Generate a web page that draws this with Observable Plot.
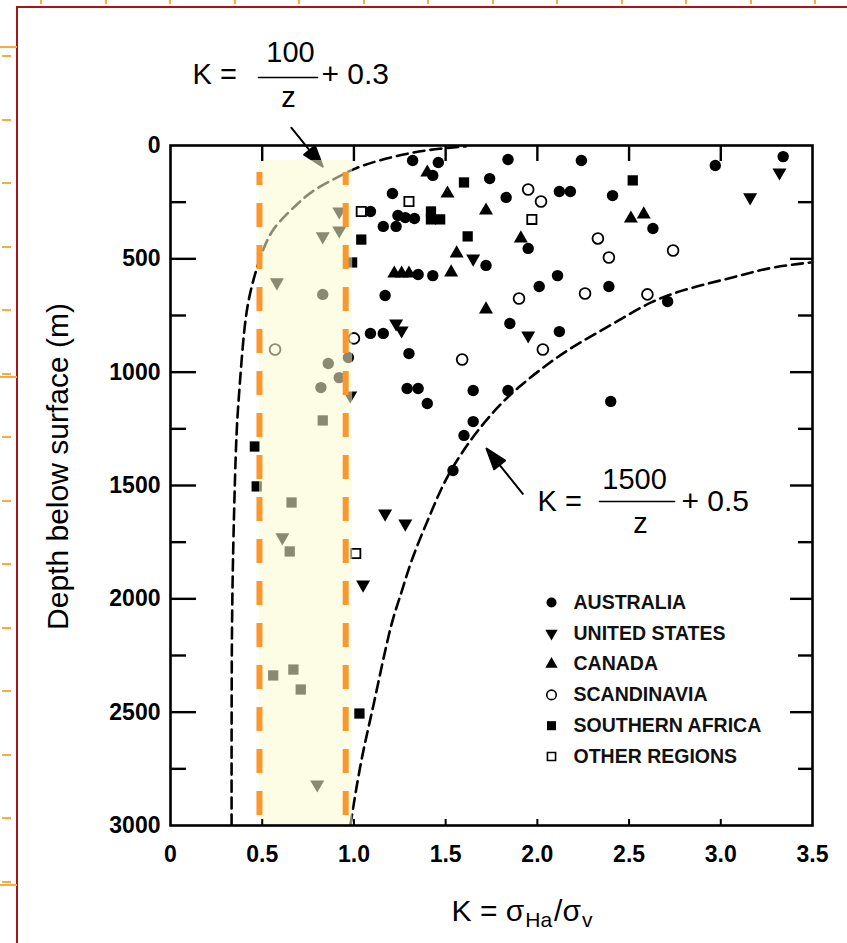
<!DOCTYPE html>
<html>
<head>
<meta charset="utf-8">
<script src="https://cdn.jsdelivr.net/npm/d3@7"></script>
<script src="https://cdn.jsdelivr.net/npm/@observablehq/plot@0.6"></script>
<style>
  html, body { margin: 0; padding: 0; background: #fff; }
  #wrap { position: relative; width: 847px; height: 943px; overflow: hidden; }
  #border { position: absolute; left: 16px; top: 6px; width: 900px; height: 1000px;
            border-top: 2px solid #a8141a; border-left: 2px solid #a8141a; }
  .om { position: absolute; background: #f4ad45; }
  #wrap svg { position: absolute; left: 0; top: 0; }
</style>
</head>
<body>
<div id="wrap"><div id="border"></div></div>
<script>
// ---------------- data (K = sigma_Ha / sigma_v, depth in m) ----------------
const regions = ["AUSTRALIA", "UNITED STATES", "CANADA", "SCANDINAVIA", "SOUTHERN AFRICA", "OTHER REGIONS"];

const australiaK = [1.32,1.46,1.43,1.84,2.24,1.74,1.21,1.83,2.12,2.18,1.09,1.24,1.28,1.33,1.16,1.23,1.95,1.72,1.35,1.43,2.11,2.01,1.17,1.85,2.12,1.09,1.16,1.30,2.41,2.63,2.39,2.71,2.97,3.34,0.83,0.86,0.97,0.92,0.82,1.29,1.35,1.40,1.65,1.84,1.65,1.60,1.54,2.40];
const australiaZ = [66,75,132,62,66,146,212,229,203,203,291,309,318,322,357,357,454,529,569,574,574,622,662,785,821,829,829,918,221,366,622,688,88,49,657,962,935,1024,1068,1072,1072,1138,1081,1081,1218,1279,1434,1129];

const usK = [0.92,0.83,0.92,0.58,0.98,0.61,0.80,1.65,1.23,1.26,1.95,1.17,1.28,1.05,3.32,3.16];
const usZ = [291,401,375,604,1103,1729,2819,499,785,816,838,1624,1668,1937,119,229];

const canadaK = [1.40,1.51,1.72,1.91,1.56,1.22,1.26,1.30,1.53,1.72,2.51,2.58];
const canadaZ = [119,212,287,410,476,565,565,565,560,723,322,304];

const scandinaviaK = [1.95,2.02,2.33,2.39,2.74,1.90,2.26,2.60,2.03,1.59,1.00,0.57];
const scandinaviaZ = [194,247,410,494,463,675,653,657,900,944,851,900];

const southAfricaK = [1.60,1.42,1.42,1.47,1.62,1.04,0.99,2.52,0.46,0.47,1.03,0.83,0.66,0.65,0.56,0.67,0.71];
const southAfricaZ = [163,291,326,326,401,415,516,154,1328,1504,2506,1213,1575,1791,2338,2312,2400];

const otherK = [1.30,1.04,1.97,1.01];
const otherZ = [247,291,326,1800];

// bounding curves as drawn: K = 100/z + 0.3 (left) and K = 1500/z + 0.5 (right)
const lowerCurveK = [0.333,0.333,0.335,0.35,0.36,0.375,0.40,0.425,0.48,0.545,0.638,0.709,0.80,0.91,1.0,1.13,1.31,1.47,1.61];
const lowerCurveZ = [3000,2500,2000,1500,1250,1080,816,670,510,375,300,243,185,141,101,66,31,13,4];
const upperCurveK = [0.98,1.04,1.10,1.20,1.25,1.31,1.42,1.50,1.64,1.78,1.89,2.06,2.22,2.42,2.62,2.84,3.07,3.26,3.49];
const upperCurveZ = [3000,2700,2500,2108,2000,1830,1620,1465,1290,1155,1070,960,873,785,684,626,582,538,516];

// highlighted band and arrow tips
const bandK = [0.485, 0.955];
const bandZ = [66, 3000];
const arrowTipK = [0.83, 1.723];
const arrowTipZ = [93, 1337];

// tick values
const xTickLabels = [0, 0.5, 1.0, 1.5, 2.0, 2.5, 3.0, 3.5];
const xInnerTicks = [0.5, 1.0, 1.5, 2.0, 2.5, 3.0];
const yTickLabels = [0, 500, 1000, 1500, 2000, 2500, 3000];
const yMajor = [500, 1000, 1500, 2000, 2500];
const yMinor = [250, 750, 1250, 1750, 2250, 2750];

// ---------------- build ----------------
const zip = (K, Z) => K.map((k, i) => ({k, z: Z[i]}));
const series = {
  "AUSTRALIA": zip(australiaK, australiaZ),
  "UNITED STATES": zip(usK, usZ),
  "CANADA": zip(canadaK, canadaZ),
  "SCANDINAVIA": zip(scandinaviaK, scandinaviaZ),
  "SOUTHERN AFRICA": zip(southAfricaK, southAfricaZ),
  "OTHER REGIONS": zip(otherK, otherZ)
};
const symStyle = {
  "AUSTRALIA":       {symbol: "circle",   r: 5.7, fill: "black", stroke: "none", rotate: 0},
  "UNITED STATES":   {symbol: "triangle", r: 5.2, fill: "black", stroke: "none", rotate: 180},
  "CANADA":          {symbol: "triangle", r: 5.2, fill: "black", stroke: "none", rotate: 0},
  "SCANDINAVIA":     {symbol: "circle",   r: 5.4, fill: "white", stroke: "black", strokeWidth: 1.8, rotate: 0},
  "SOUTHERN AFRICA": {symbol: "square",   r: 5.8, fill: "black", stroke: "none", rotate: 0},
  "OTHER REGIONS":   {symbol: "square",   r: 5.2, fill: "white", stroke: "black", strokeWidth: 1.8, rotate: 0}
};

const ML = 170, MR = 35, MT = 145, MB = 118;
const at = (x, y) => ({frameAnchor: "top-left", dx: x - ML, dy: y - MT});
const font = "'Liberation Sans', Arial, Helvetica, sans-serif";

const arrowShape = {
  draw(c, l) {
    c.moveTo(0, 0); c.lineTo(0, -l + 16);
    c.moveTo(0, -l); c.lineTo(-7, -l + 21); c.lineTo(7, -l + 21); c.closePath();
  }
};
const barShape = { draw(c, l) { c.moveTo(0, 0); c.lineTo(0, -l); } };

const dotMarks = regions.map(name => {
  const s = symStyle[name];
  return Plot.dot(series[name], {x: "k", y: "z", symbol: s.symbol, r: s.r, fill: s.fill,
    stroke: s.stroke, strokeWidth: s.strokeWidth || 1, rotate: s.rotate});
});

const legendMarks = regions.flatMap((name, i) => {
  const s = symStyle[name];
  const y = 602 + i * 30.8;
  return [
    Plot.dot([name], {x: null, y: null, ...at(551, y), symbol: s.symbol, r: s.r * 0.88, fill: s.fill,
      stroke: s.stroke, strokeWidth: (s.strokeWidth || 1) * 0.9, rotate: s.rotate}),
    Plot.text([name], {...at(573, y), text: d => d, textAnchor: "start", lineAnchor: "middle",
      fontSize: 19.5, fontWeight: "bold", fill: "#111"})
  ];
});

const formula = (x0, base, num, tail, tailX, numX, barX1, barX2, barY, zBase, zX) => [
  Plot.text(["K ="], {...at(x0, base), text: d => d, textAnchor: "start", lineAnchor: "bottom", fontSize: 29}),
  Plot.text([num], {...at(numX, base - 22), text: d => d, textAnchor: "middle", lineAnchor: "bottom", fontSize: 29}),
  Plot.vector([0], {x: null, y: null, ...at(barX1, barY), length: barX2 - barX1, rotate: 90, anchor: "start",
    shape: barShape, stroke: "black", strokeWidth: 1.6}),
  Plot.text(["z"], {...at(zX, zBase), text: d => d, textAnchor: "middle", lineAnchor: "bottom", fontSize: 29}),
  Plot.text([tail], {...at(tailX, base), text: d => d, textAnchor: "start", lineAnchor: "bottom", fontSize: 30})
];

const chart = Plot.plot({
  width: 847, height: 943,
  marginLeft: ML, marginRight: MR, marginTop: MT, marginBottom: MB,
  x: {domain: [0, 3.5]},
  y: {domain: [0, 3000], reverse: true},
  style: {fontFamily: font, background: "transparent", overflow: "visible", color: "black"},
  marks: [
    ...dotMarks,
    Plot.line(zip(lowerCurveK, lowerCurveZ), {x: "k", y: "z", curve: "basis", stroke: "black",
      strokeWidth: 2.6, strokeDasharray: "11 6", clip: true}),
    Plot.line(zip(upperCurveK, upperCurveZ), {x: "k", y: "z", curve: "basis", stroke: "black",
      strokeWidth: 2.6, strokeDasharray: "11 6", clip: true}),
    Plot.vector([{k: arrowTipK[0], z: arrowTipZ[0]}], {x: "k", y: "z", length: 50, rotate: 141, anchor: "end",
      shape: arrowShape, stroke: "black", fill: "black", strokeWidth: 2}),
    Plot.vector([{k: arrowTipK[1], z: arrowTipZ[1]}], {x: "k", y: "z", length: 58, rotate: -38.7, anchor: "end",
      shape: arrowShape, stroke: "black", fill: "black", strokeWidth: 2}),
    // translucent highlight band over the data
    Plot.rect([0], {x1: bandK[0], x2: bandK[1], y1: bandZ[0], y2: bandZ[1], insetRight: -7,
      fill: "#fbfbd0", fillOpacity: 0.55}),
    Plot.ruleX(bandK, {y1: 119, y2: bandZ[1], stroke: "#f8982f", strokeWidth: 6,
      strokeDasharray: "24 18", strokeDashoffset: 11}),
    // frame and inward ticks
    Plot.frame({stroke: "black", strokeWidth: 2.6}),
    Plot.axisX(xInnerTicks, {anchor: "top", tickSize: -15, fill: "none", label: null, strokeWidth: 2.4}),
    Plot.axisX(xInnerTicks, {anchor: "bottom", tickSize: -6, fill: "none", label: null, strokeWidth: 2}),
    Plot.axisY(yMajor, {anchor: "left", tickSize: -26, fill: "none", label: null, strokeWidth: 2.4}),
    Plot.axisY(yMinor, {anchor: "left", tickSize: -16, fill: "none", label: null, strokeWidth: 2.4}),
    Plot.axisY(yMajor, {anchor: "right", tickSize: -23, fill: "none", label: null, strokeWidth: 2.4}),
    Plot.axisY(yMinor, {anchor: "right", tickSize: -15, fill: "none", label: null, strokeWidth: 2.4}),
    // tick labels
    Plot.axisX(xTickLabels, {anchor: "bottom", tickSize: 0, tickPadding: 20, label: null, fontSize: 23,
      fontWeight: "bold", tickFormat: d => d === 0 ? "0" : d.toFixed(1)}),
    Plot.axisY(yTickLabels, {anchor: "left", tickSize: 0, tickPadding: 10, label: null, fontSize: 23,
      fontWeight: "bold", tickFormat: d => String(d)}),
    Plot.text(["Depth below surface (m)"], {frameAnchor: "left", dx: -112, dy: -19, rotate: -90,
      text: d => d, textAnchor: "middle", lineAnchor: "middle", fontSize: 30}),
    // formulas
    ...formula(192, 83, "100", "+ 0.3", 321, 290, 258, 317, 77, 106, 288),
    ...formula(537, 510, "1500", "+ 0.5", 681, 634, 599, 674, 501, 532, 640),
    ...legendMarks
  ]
});

// x-axis title with subscripts
const svg = d3.select(chart);
const t = svg.append("text").attr("x", 522).attr("y", 921).attr("text-anchor", "middle")
  .attr("font-family", font).attr("font-size", 30).attr("fill", "black");
t.append("tspan").text("K = σ");
t.append("tspan").attr("font-size", 21).attr("dy", 6).attr("dx", 1).text("Ha");
t.append("tspan").attr("dy", -6).attr("dx", 2).text("/σ");
t.append("tspan").attr("font-size", 21).attr("dy", 6).attr("dx", 1).text("v");

const wrap = document.getElementById("wrap");
wrap.appendChild(chart);

// page-edge decorations of the scanned page
const deco = (l, tp, w, h) => { const d = document.createElement("div"); d.className = "om";
  Object.assign(d.style, {left: l + "px", top: tp + "px", width: w + "px", height: h + "px"}); wrap.appendChild(d); };
for (let x = 40; x < 847; x += 64.5) deco(x, 0, 2, 4);
for (let y = 55; y < 943; y += 63.5) deco(2, y, 9, 2);
[46, 376, 884].forEach(y => deco(0, y, 17, 2));
</script>
</body>
</html>
